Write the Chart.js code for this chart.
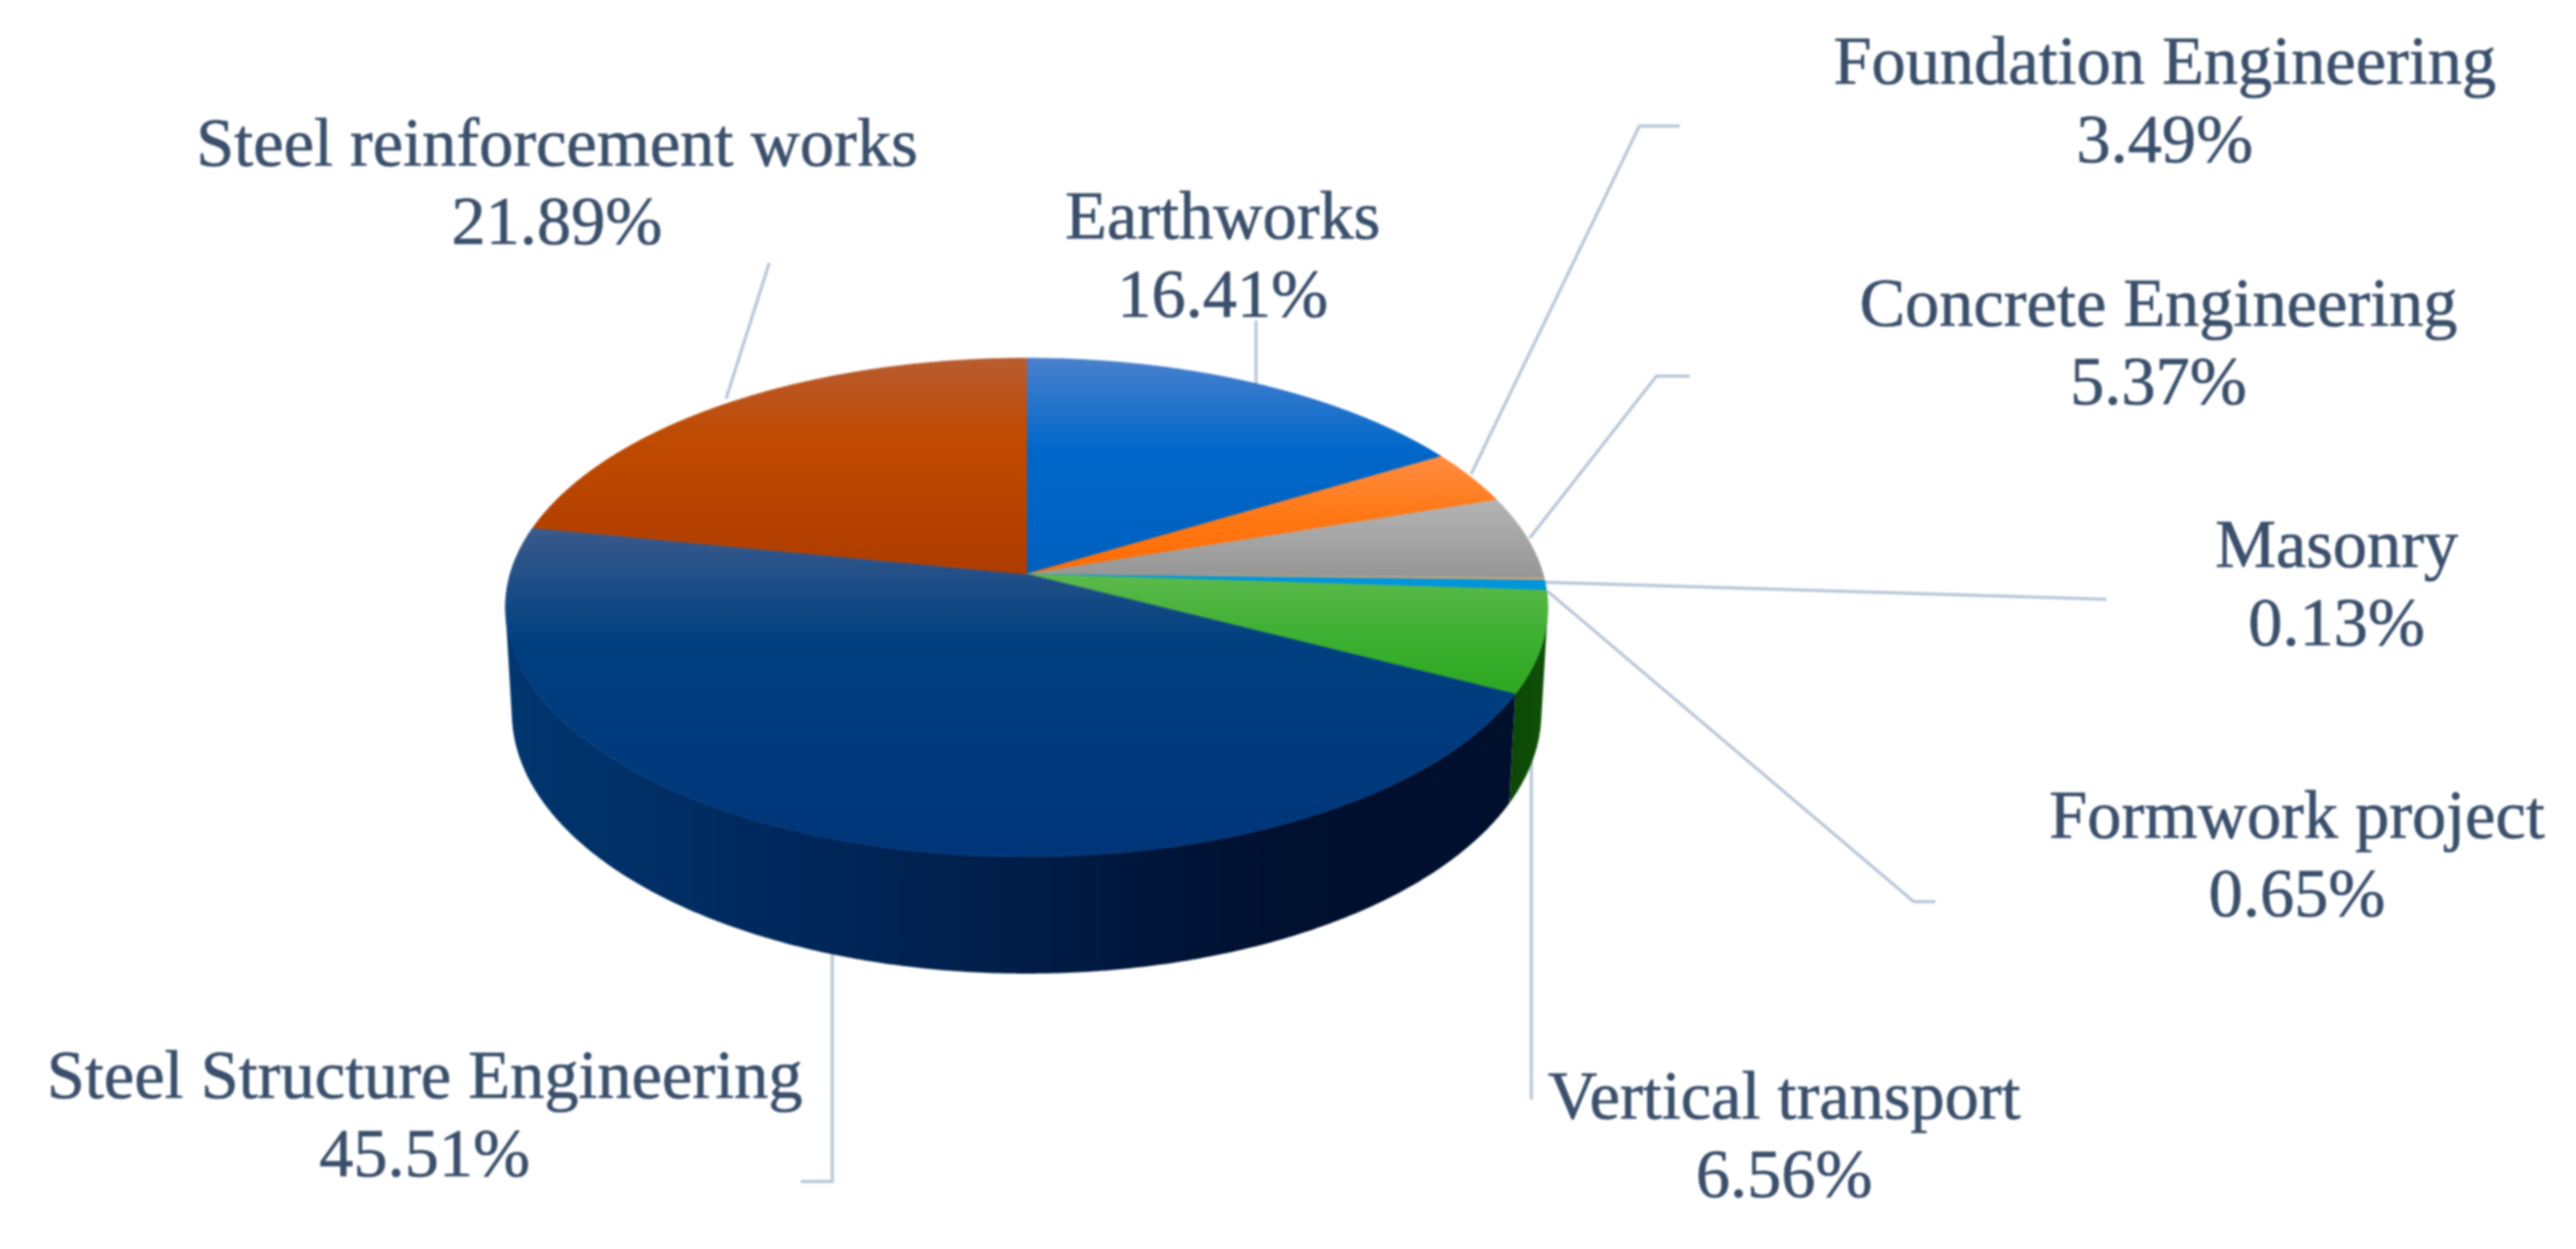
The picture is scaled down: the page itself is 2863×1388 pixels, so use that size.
<!DOCTYPE html>
<html>
<head>
<meta charset="utf-8">
<style>
html,body{margin:0;padding:0;background:#fff;width:2863px;height:1388px;overflow:hidden}
canvas{display:block;filter:blur(0.9px)}
</style>
<script src="https://cdn.jsdelivr.net/npm/chart.js@4"></script>
</head>
<body>
<canvas id="c" width="2863" height="1388"></canvas>
<script>
// ---- data ----
const categories = ["Earthworks","Foundation Engineering","Concrete Engineering","Masonry","Formwork project","Vertical transport","Steel Structure Engineering","Steel reinforcement works"];
const shares = [16.41,3.49,5.37,0.13,0.65,6.56,45.51,21.89];
const baseColors = ["#0066C8","#FF7A18","#A5A5A5","#E0A868","#0095DC","#3EB033","#00407F","#C04A00"];

// ---- styles & layout (not data) ----
const faceStops = [
 [[0,"#4A80CE"],[.42,"#0068CA"],[1,"#0060BF"]],
 [[0,"#FF8C42"],[.45,"#FF7A18"],[1,"#FF6A00"]],
 [[0,"#B4B4B4"],[.5,"#A5A5A5"],[1,"#959595"]],
 [[0,"#E0A868"],[1,"#E0A868"]],
 [[0,"#0095DC"],[1,"#0095DC"]],
 [[0,"#5CB94C"],[.5,"#3EB033"],[1,"#2CA81F"]],
 [[0,"#3A5A8C"],[.35,"#004080"],[1,"#00357A"]],
 [[0,"#B85C30"],[.38,"#C04A00"],[1,"#AE3C00"]]
];
const wallStops = [null,null,null,null,null,
 {x0:1674,x1:1725,stops:[[0,"#0C4606"],[1,"#0F5209"]]},
 {x0:560,x1:1700,stops:[[0,"#01366F"],[.28,"#00285C"],[.52,"#001C45"],[.75,"#001030"],[1,"#000F2C"]]},
 null];
const top3d = {cx:1141, cy:638, a:574, b:272, p:0.1336};
const bottom3d = {cx:1141, cy:753, a:567, b:285, p:0.1336};
const labelAnchors = [[1359,265],[2406,93],[2399,362],[2597,630],[2553,931],[1983,1243],[472,1220],[619,184]];
const lineGap = 87;
const fontSize = 76;
const leaderLines = [
 [[1396,430],[1396,356]],
 [[1635,527],[1822,140],[1867,140]],
 [[1700,598],[1841,418],[1878,418]],
 [[1717,647],[2341,666]],
 [[1720,657],[2127,1002],[2151,1002]],
 [[1702,800],[1702,1222]],
 [[925,1050],[925,1313],[890,1313]],
 [[807,443],[855,292]]
];

function project(d, theta){
  const X = Math.sin(theta), Y = -Math.cos(theta), w = 1 - d.p*Y;
  return [d.cx + d.a*X/w, d.cy + d.b*Y/w];
}
function arcPts(d, t0, t1){
  const n = Math.max(4, Math.ceil((t1-t0)*120)), pts = [];
  for(let i=0;i<=n;i++) pts.push(project(d, t0+(t1-t0)*i/n));
  return pts;
}
function addPoly(ctx, pts){
  pts.forEach((q,i)=> i ? ctx.lineTo(q[0],q[1]) : ctx.moveTo(q[0],q[1]));
  ctx.closePath();
}
// same winding for every quad, so that overlapping quads in one path never cancel out
function oriented(pts){
  let s = 0;
  pts.forEach((q,i)=>{ const r = pts[(i+1)%pts.length]; s += q[0]*r[1]-r[0]*q[1]; });
  return s < 0 ? pts.slice().reverse() : pts;
}
function grad(ctx, x0,y0,x1,y1, stops){
  const g = ctx.createLinearGradient(x0,y0,x1,y1);
  stops.forEach(s=>g.addColorStop(s[0],s[1]));
  return g;
}

const pie3d = {
  id:'pie3d',
  beforeDatasetDraw(chart, args){
    const ctx = chart.ctx, arcs = chart.getDatasetMeta(args.index).data;
    const angles = arcs.map(a=>{
      const p = a.getProps(['startAngle','endAngle'], true);
      return [p.startAngle+Math.PI/2, p.endAngle+Math.PI/2];
    });
    // leader lines sit behind the pie
    ctx.save();
    ctx.strokeStyle = "#B9C7D8"; ctx.lineWidth = 3.5; ctx.lineJoin='miter';
    leaderLines.forEach(l=>{
      ctx.beginPath();
      l.forEach((q,i)=> i ? ctx.lineTo(q[0],q[1]) : ctx.moveTo(q[0],q[1]));
      ctx.stroke();
    });
    ctx.restore();
    // side walls: one path made of quads, filled once, so it has no seams and fills the silhouette
    angles.forEach((t,i)=>{
      const w = wallStops[i];
      if(!w) return;
      const a = arcPts(top3d,t[0],t[1]), b = arcPts(bottom3d,t[0],t[1]);
      ctx.fillStyle = grad(ctx,w.x0,0,w.x1,0,w.stops);
      ctx.beginPath();
      for(let k=0;k<a.length-1;k++) addPoly(ctx,oriented([a[k],a[k+1],b[k+1],b[k]]));
      ctx.fill();
    });
    // top face
    angles.forEach((t,i)=>{
      const rim = arcPts(top3d,t[0],t[1]);
      const pts = [[top3d.cx,top3d.cy]].concat(rim);
      const ys = pts.map(q=>q[1]);
      const g = grad(ctx,0,Math.min(...ys),0,Math.max(...ys),faceStops[i]);
      ctx.fillStyle = g; ctx.strokeStyle = g; ctx.lineWidth = 0.8;
      ctx.beginPath(); addPoly(ctx,pts); ctx.fill(); ctx.stroke();
    });
    return false;
  },
  afterDraw(chart){
    const ctx = chart.ctx;
    ctx.save();
    ctx.fillStyle = "#3A4F6B"; ctx.strokeStyle = "#3A4F6B"; ctx.lineWidth = 0.7;
    ctx.font = fontSize+'px "Liberation Serif"';
    ctx.textAlign = 'center'; ctx.textBaseline = 'alphabetic';
    categories.forEach((c,i)=>{
      const a = labelAnchors[i], pct = shares[i].toFixed(2)+'%';
      ctx.fillText(c, a[0], a[1]); ctx.strokeText(c, a[0], a[1]);
      ctx.fillText(pct, a[0], a[1]+lineGap); ctx.strokeText(pct, a[0], a[1]+lineGap);
    });
    ctx.restore();
  }
};

new Chart(document.getElementById('c'),{
  type:'pie',
  data:{labels:categories,datasets:[{data:shares,backgroundColor:baseColors,borderWidth:0}]},
  options:{
    responsive:false,animation:false,
    plugins:{legend:{display:false},tooltip:{enabled:false},title:{display:false}}
  },
  plugins:[pie3d]
});
</script>
</body>
</html>
